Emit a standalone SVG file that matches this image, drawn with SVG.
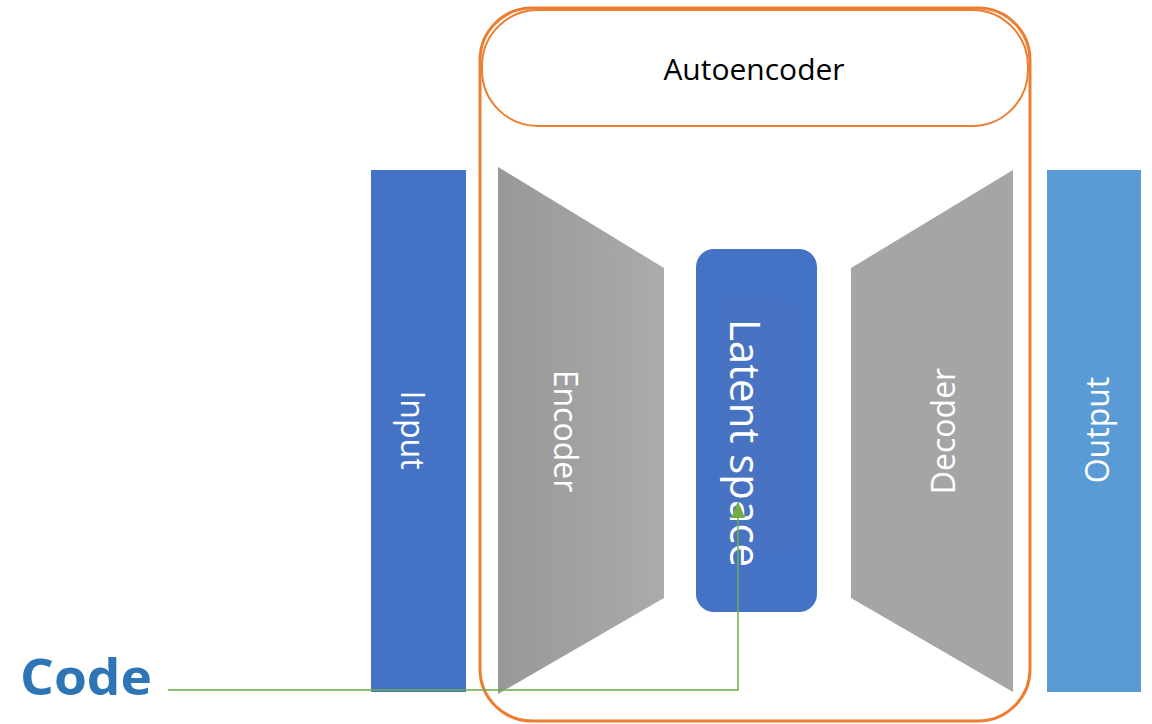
<svg xmlns="http://www.w3.org/2000/svg" width="1152" height="724" viewBox="0 0 1152 724">
  <style>
    .lbl { font-family: "Open Sans", "Noto Sans", sans-serif; fill: #ffffff; text-anchor: middle; dominant-baseline: central; }
    .frame { fill: none; stroke: #ED7D31; }
    .wire { fill: none; stroke: #70AD47; stroke-width: 1.5; }
    .head { fill: #70AD47; }
  </style>
  <defs>
    <linearGradient id="encFill" x1="0" y1="0" x2="1" y2="0">
      <stop offset="0" stop-color="#989898"/>
      <stop offset="1" stop-color="#ababab"/>
    </linearGradient>
  </defs>

  <rect width="1152" height="724" fill="#ffffff"/>

  <!-- autoencoder container -->
  <g id="autoencoder">
    <rect class="frame" x="480" y="8" width="550" height="713" rx="52" stroke-width="3"/>
    <rect class="frame" x="482" y="10" width="546" height="116" rx="56" stroke-width="2"/>
    <text x="754" y="68" font-family="Open Sans, Noto Sans, sans-serif" font-size="30" fill="#000000" text-anchor="middle" dominant-baseline="central">Autoencoder</text>
  </g>

  <g id="input">
    <rect x="371" y="170" width="95" height="522" fill="#4472C4"/>
    <text class="lbl" font-size="32" transform="translate(413,430) rotate(90)">Input</text>
  </g>

  <g id="encoder">
    <polygon points="498,167 664,268 664,598 498,694" fill="url(#encFill)"/>
    <text class="lbl" font-size="32" transform="translate(566,431) rotate(90)">Encoder</text>
  </g>

  <g id="latent">
    <rect x="696" y="249" width="121" height="363" rx="18" fill="#4472C4"/>
    <rect x="720" y="302" width="70" height="248" fill="#4a74c0" opacity="0.5"/>
    <text class="lbl" font-size="42" transform="translate(746,443) rotate(90)">Latent space</text>
  </g>

  <g id="decoder">
    <polygon points="851,268 1013,170 1013,692 851,598" fill="#A5A5A5"/>
    <text class="lbl" font-size="32" transform="translate(942,431) rotate(-90)">Decoder</text>
  </g>

  <g id="output">
    <rect x="1047" y="170" width="94" height="522" fill="#5B9BD5"/>
    <text class="lbl" font-size="32" transform="translate(1096,430) rotate(-90)">Output</text>
  </g>

  <g id="code">
    <text x="20" y="695" font-family="Open Sans, Noto Sans, sans-serif" font-weight="bold" font-size="50" fill="#2E75B6" textLength="132" lengthAdjust="spacingAndGlyphs">Code</text>
  </g>

  <g id="connectors">
    <polyline class="wire" points="168,690 738,690 738,515"/>
    <polygon class="head" points="738,501 731,518 745,518"/>
  </g>
</svg>
